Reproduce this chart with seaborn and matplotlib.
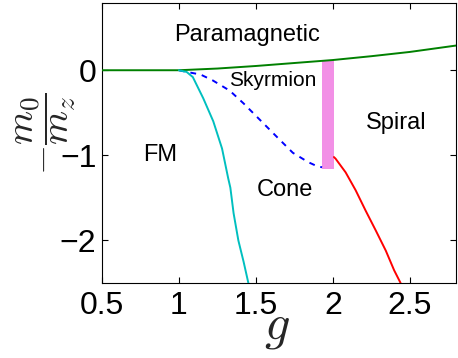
import matplotlib
matplotlib.use("Agg")
import matplotlib.pyplot as plt
import seaborn as sns
import pandas as pd

# Phase boundaries
green_x = [0.5, 1.0, 1.25, 1.5, 1.75, 2.0, 2.25, 2.5, 2.8]
green_y = [0.0, 0.0, 0.02, 0.05, 0.085, 0.12, 0.165, 0.215, 0.29]

cyan_x = [1.0, 1.05, 1.09, 1.158, 1.223, 1.28, 1.32, 1.334, 1.355, 1.386, 1.42, 1.451]
cyan_y = [0.0, -0.02, -0.08, -0.33, -0.6, -0.92, -1.27, -1.38, -1.68, -2.0, -2.25, -2.5]

blue_x = [1.0, 1.05, 1.14, 1.22, 1.33, 1.42, 1.53, 1.64, 1.74, 1.84, 1.9, 1.93]
blue_y = [0.0, -0.02, -0.05, -0.12, -0.24, -0.39, -0.59, -0.79, -0.97, -1.08, -1.13, -1.14]

red_x = [2.007, 2.018, 2.083, 2.148, 2.213, 2.278, 2.344, 2.398, 2.44]
red_y = [-1.02, -1.04, -1.20, -1.41, -1.65, -1.88, -2.12, -2.35, -2.5]

bar_x = [1.97]
bar_top = [0.12]
bar_bottom = [-1.16]

labels = ["Paramagnetic", "Skyrmion", "Spiral", "FM", "Cone"]
label_x = [1.445, 1.61, 2.41, 0.88, 1.69]
label_y = [0.41, -0.12, -0.62, -1.0, -1.41]
label_size = [17, 15, 17, 17, 17]

xticks = [0.5, 1, 1.5, 2, 2.5]
yticks = [-2, -1, 0]

sns.set_style("white")
plt.rcParams["font.family"] = ["Liberation Sans", "DejaVu Sans"]
plt.rcParams["mathtext.fontset"] = "cm"

fig = plt.figure(figsize=(4.58, 3.58), dpi=100)
ax = fig.add_axes([0.2227, 0.2095, 0.7729, 0.7821])

ax.bar(bar_x, [t - b for t, b in zip(bar_top, bar_bottom)], bottom=bar_bottom,
       width=0.08, color="#f290e6", edgecolor="none", zorder=1)

sns.lineplot(data=pd.DataFrame({"x": green_x, "y": green_y}), x="x", y="y", ax=ax,
             color="#008000", linewidth=1.4, sort=False, zorder=3)
sns.lineplot(data=pd.DataFrame({"x": cyan_x, "y": cyan_y}), x="x", y="y", ax=ax,
             color="#00BFBF", linewidth=1.4, sort=False, zorder=3)
sns.lineplot(data=pd.DataFrame({"x": blue_x, "y": blue_y}), x="x", y="y", ax=ax,
             color="#0000FF", linewidth=1.4, sort=False, zorder=2,
             linestyle=(0, (3, 3)))
sns.lineplot(data=pd.DataFrame({"x": red_x, "y": red_y}), x="x", y="y", ax=ax,
             color="#FF0000", linewidth=1.4, sort=False, zorder=3)

for t, x, y, s in zip(labels, label_x, label_y, label_size):
    ax.text(x, y, t, fontsize=s, ha="center", va="center", color="black")

ax.set_xlim(0.5, 2.8)
ax.set_ylim(-2.5, 0.79)
ax.set_xticks(xticks)
ax.set_xticklabels([f"{v:g}" for v in xticks])
ax.set_yticks(yticks)
ax.set_yticklabels([f"{v:g}".replace("-", "\u2212") for v in yticks])
ax.tick_params(direction="in", length=4, width=0.8, labelsize=23,
               top=True, right=True, bottom=True, left=True, colors="black")
ax.tick_params(axis="x", pad=6)
ax.tick_params(axis="y", pad=4)
for sp in ax.spines.values():
    sp.set_visible(True)
    sp.set_color("black")
    sp.set_linewidth(0.8)

ax.set_xlabel("$g$", fontsize=36, va="top")
ax.xaxis.set_label_coords(0.494, -0.08)
ax.set_ylabel(r"$-\dfrac{m_0}{m_z}$", fontsize=28, va="center")
ax.yaxis.set_label_coords(-0.158, 0.532)

fig.savefig("out.png", dpi=100)
